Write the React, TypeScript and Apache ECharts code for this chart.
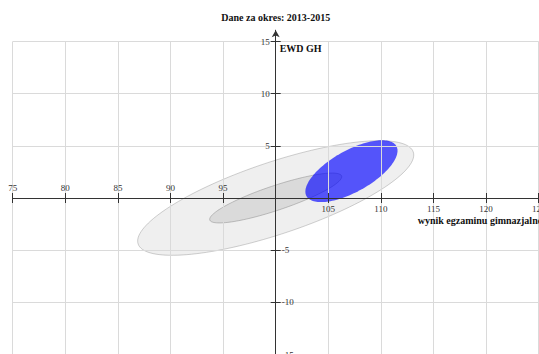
import React, { useEffect, useRef } from 'react';
import * as echarts from 'echarts';

// ---- texts ----
const chartTitle = 'Dane za okres: 2013-2015';
const xAxisName = 'wynik egzaminu gimnazjalnego';
const yAxisName = 'EWD GH';

// ---- axes ----
const xMin = 75;
const xMax = 125;
const xStep = 5;
const xCross = 100; // vertical axis crosses here
const yMin = -15;
const yMax = 15;
const yStep = 5;
const yCross = 0; // horizontal axis crosses here

// ---- ellipses (data units): centre, semi-axes, rotation ----
const ellipseNames = ['obszar szeroki', 'obszar wąski', 'szkoła'];
const ellipseCenterX = [100, 100, 107.2];
const ellipseCenterY = [0, 0, 2.57];
const ellipseSemiMajor = [13.8, 6.61, 4.9];
const ellipseSemiMinor = [3.45, 1.18, 1.99];
const ellipseAngleDeg = [18.65, 18.64, 29.4];

// ---- styles ----
const ellipseFill = ['rgba(128,128,128,0.13)', 'rgba(110,110,110,0.16)', 'rgba(0,0,255,0.65)'];
const ellipseStroke = ['rgba(120,120,120,0.35)', 'rgba(100,100,100,0.35)', 'rgba(0,0,255,0)'];

const W = 539;
const H = 354;
const GRID_LEFT = 12.7;
const GRID_RIGHT = 0.3;
const GRID_TOP = 41.5;
const GRID_BOTTOM = -0.5;
const ARROW_TOP = 30.2;
const SERIF = '"Liberation Serif", "Times New Roman", serif';
const AXIS_COLOR = '#333';
const GRID_COLOR = '#dadada';

export default function App() {
  const ref = useRef<HTMLDivElement>(null);

  useEffect(() => {
    if (!ref.current) return;
    const chart = echarts.init(ref.current, null, { renderer: 'svg', width: W, height: H });
    const gridWidth = W - GRID_LEFT - GRID_RIGHT;
    const gridHeight = H - GRID_TOP - GRID_BOTTOM;
    const yAxisOffset = -(gridWidth * (xCross - xMin)) / (xMax - xMin);
    const xAxisOffset = -(gridHeight * (yCross - yMin)) / (yMax - yMin);
    const axisPx = GRID_LEFT - yAxisOffset;

    const labelStyle = { color: AXIS_COLOR, fontFamily: SERIF, fontSize: 9 };
    const tickStyle = { color: AXIS_COLOR, width: 1 };
    const gridBase = {
      left: GRID_LEFT,
      right: GRID_RIGHT,
      bottom: GRID_BOTTOM,
      containLabel: false,
      outerBoundsMode: 'none',
    };

    const option: any = {
      animation: false,
      backgroundColor: '#fff',
      graphic: [
        {
          type: 'text',
          x: axisPx,
          y: 17,
          style: {
            text: chartTitle,
            textAlign: 'center',
            textVerticalAlign: 'middle',
            font: `bold 10px ${SERIF}`,
            fill: '#111',
          },
        },
      ],
      grid: [
        { ...gridBase, top: GRID_TOP },
        { ...gridBase, top: ARROW_TOP },
      ],
      xAxis: [
        {
          gridIndex: 0,
          type: 'value',
          min: xMin,
          max: xMax,
          interval: xStep,
          position: 'bottom',
          offset: xAxisOffset,
          z: 5,
          axisLine: { show: true, onZero: false, lineStyle: { color: AXIS_COLOR, width: 1 } },
          axisTick: { show: true, inside: false, length: 5, lineStyle: tickStyle },
          axisLabel: {
            ...labelStyle,
            margin: 6,
            showMinLabel: true,
            showMaxLabel: true,
            hideOverlap: false,
            formatter: (v: number) => (v > xCross ? String(v) : ''),
          },
          splitLine: { show: true, lineStyle: { color: GRID_COLOR, width: 1 } },
          name: xAxisName,
          nameLocation: 'end',
          nameGap: -121,
          nameMoveOverlap: false,
          nameTextStyle: {
            fontFamily: SERIF,
            fontSize: 10,
            fontWeight: 'bold',
            color: '#111',
            align: 'left',
            verticalAlign: 'top',
            padding: [17, 0, 0, 0],
          },
        },
        {
          gridIndex: 0,
          type: 'value',
          min: xMin,
          max: xMax,
          interval: xStep,
          position: 'bottom',
          offset: xAxisOffset,
          z: 5,
          axisLine: { show: false, onZero: false },
          axisTick: { show: true, inside: true, length: 5, lineStyle: tickStyle },
          axisLabel: {
            ...labelStyle,
            inside: true,
            margin: 6,
            showMinLabel: true,
            showMaxLabel: true,
            hideOverlap: false,
            formatter: (v: number) => (v < xCross ? String(v) : ''),
          },
          splitLine: { show: false },
        },
        { gridIndex: 1, type: 'value', min: xMin, max: xMax, show: false },
      ],
      yAxis: [
        {
          gridIndex: 0,
          type: 'value',
          min: yMin,
          max: yMax,
          interval: yStep,
          position: 'left',
          offset: yAxisOffset,
          z: 5,
          axisLine: { show: false, onZero: false },
          axisTick: { show: true, inside: false, length: 5, lineStyle: tickStyle },
          axisLabel: {
            ...labelStyle,
            margin: 6,
            showMinLabel: true,
            showMaxLabel: true,
            hideOverlap: false,
            formatter: (v: number) => (v > yCross ? String(v) : ''),
          },
          splitLine: { show: true, lineStyle: { color: GRID_COLOR, width: 1 } },
          name: yAxisName,
          nameLocation: 'end',
          nameGap: -2,
          nameMoveOverlap: false,
          nameTextStyle: {
            fontFamily: SERIF,
            fontSize: 10,
            fontWeight: 'bold',
            color: '#111',
            align: 'left',
            verticalAlign: 'top',
            padding: [0, 0, 0, 4],
          },
        },
        {
          gridIndex: 0,
          type: 'value',
          min: yMin,
          max: yMax,
          interval: yStep,
          position: 'left',
          offset: yAxisOffset,
          z: 5,
          axisLine: { show: false, onZero: false },
          axisTick: { show: true, inside: true, length: 5, lineStyle: tickStyle },
          axisLabel: {
            ...labelStyle,
            inside: true,
            margin: 6,
            showMinLabel: true,
            showMaxLabel: true,
            hideOverlap: false,
            formatter: (v: number) => (v < yCross ? String(v) : ''),
          },
          splitLine: { show: false },
        },
        {
          gridIndex: 1,
          type: 'value',
          min: yMin,
          max: yMax,
          position: 'left',
          offset: yAxisOffset,
          z: 5,
          axisLine: {
            show: true,
            onZero: false,
            symbol: ['none', 'arrow'],
            symbolSize: [6, 7],
            lineStyle: { color: AXIS_COLOR, width: 1 },
          },
          axisTick: { show: false },
          axisLabel: { show: false },
          splitLine: { show: false },
        },
      ],
      series: [
        {
          type: 'custom',
          name: 'elipsy',
          coordinateSystem: 'cartesian2d',
          xAxisIndex: 0,
          yAxisIndex: 0,
          silent: true,
          clip: false,
          z: 2,
          encode: { x: 0, y: 1 },
          data: ellipseNames.map((n, i) => ({
            name: n,
            value: [ellipseCenterX[i], ellipseCenterY[i], ellipseSemiMajor[i], ellipseSemiMinor[i], ellipseAngleDeg[i]],
          })),
          renderItem: (params: any, api: any) => {
            const cx = api.value(0);
            const cy = api.value(1);
            const a = api.value(2);
            const b = api.value(3);
            const phi = (api.value(4) * Math.PI) / 180;
            const pts: number[][] = [];
            const N = 144;
            for (let k = 0; k < N; k++) {
              const t = (2 * Math.PI * k) / N;
              const x = cx + a * Math.cos(phi) * Math.cos(t) - b * Math.sin(phi) * Math.sin(t);
              const y = cy + a * Math.sin(phi) * Math.cos(t) + b * Math.cos(phi) * Math.sin(t);
              pts.push(api.coord([x, y]));
            }
            const i = params.dataIndex;
            return {
              type: 'polygon',
              shape: { points: pts },
              style: { fill: ellipseFill[i], stroke: ellipseStroke[i], lineWidth: 1 },
            };
          },
        },
      ],
    };

    chart.setOption(option);
    return () => chart.dispose();
  }, []);

  return (
    <div
      ref={ref}
      style={{ position: 'absolute', left: 0, top: 0, width: W, height: H, overflow: 'hidden', background: '#fff' }}
    />
  );
}
